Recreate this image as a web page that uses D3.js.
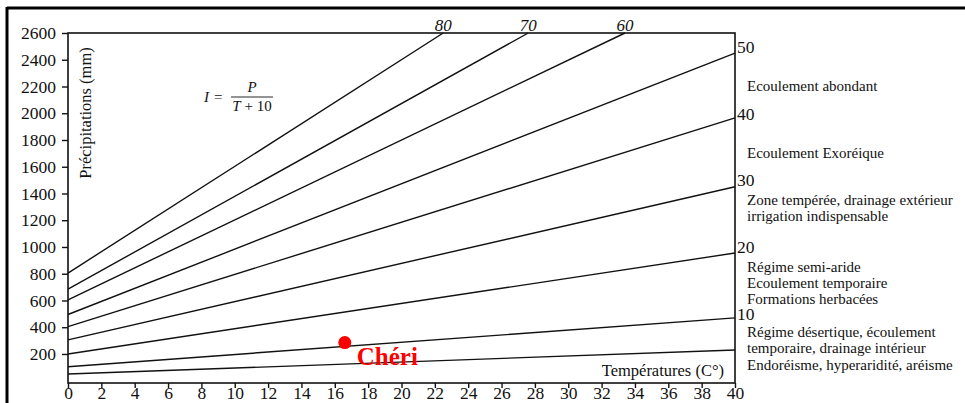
<!DOCTYPE html>
<html>
<head>
<meta charset="utf-8">
<script src="https://cdn.jsdelivr.net/npm/d3@7"></script>
<style>
  body { margin: 0; background: #fff; }
  svg { display: block; }
</style>
</head>
<body>
<svg id="chart" width="965" height="403"></svg>
<script>
// indices de De Martonne
const indices = [5, 10, 20, 30, 40, 50, 60, 70, 80];
const startP = [50, 105, 200, 305, 405, 495, 605, 685, 805];   // P a T = 0
const endT = [40, 40, 40, 40, 40, 40, 33.4, 27.6, 22.5];
const endP = [230, 470, 955, 1450, 1965, 2450, 2600, 2600, 2600];

const xTicks = d3.range(0, 41, 2);
const yTicks = [200, 400, 600, 800, 1000, 1200, 1400, 1600, 1800, 2000, 2200, 2400, 2600];

// etiquettes a droite
const rightLabels = ["50", "40", "30", "20", "10"];
const rightLabelP = [2500, 2000, 1500, 1000, 500];

const zoneText = [
  "Ecoulement abondant",
  "Ecoulement Exoréique",
  "Zone tempérée, drainage extérieur",
  "irrigation indispensable",
  "Régime semi-aride",
  "Ecoulement temporaire",
  "Formations herbacées",
  "Régime désertique, écoulement",
  "temporaire, drainage intérieur",
  "Endoréisme, hyperaridité, aréisme"
];
const zoneTextP = [2203, 1709, 1351, 1231, 851, 731, 612, 365, 245, 118];

const station = { name: "Chéri", T: 16.6, P: 285 };

const svg = d3.select("#chart");
const mLeft = 68, mRight = 735, mTop = 33, mBottom = 383;
const serif = "'Liberation Serif', 'Times New Roman', serif";

let x = d3.scaleLinear().domain([0, 40]).range([mLeft, mRight]);
let y = d3.scaleLinear().domain([-17, 2600]).range([mBottom, mTop]);

// cadre exterieur
svg.append("line").attr("x1", 7).attr("x2", 965).attr("y1", 8).attr("y2", 8)
  .attr("stroke", "#000").attr("stroke-width", 3);
svg.append("line").attr("x1", 7).attr("x2", 7).attr("y1", 7).attr("y2", 403)
  .attr("stroke", "#000").attr("stroke-width", 3);

// lignes d'indice
svg.append("g").selectAll("line")
  .data(indices)
  .enter()
  .append("line")
  .attr("x1", x(0))
  .attr("y1", (d, i) => y(startP[i]))
  .attr("x2", (d, i) => x(endT[i]))
  .attr("y2", (d, i) => y(endP[i]))
  .attr("stroke", "#111")
  .attr("stroke-width", 1.4);

// axes
let gx = svg.append("g").attr("transform", "translate(0," + mBottom + ")")
  .call(d3.axisBottom(x).tickValues(xTicks).tickSize(5).tickPadding(-1).tickFormat(d3.format("d")));
gx.select(".domain").remove();
gx.selectAll("text").attr("font-size", 17.5).attr("fill", "#111");
gx.selectAll("line").attr("stroke", "#111").attr("stroke-width", 1.4);

let gy = svg.append("g").attr("transform", "translate(" + mLeft + ",0)")
  .call(d3.axisLeft(y).tickValues(yTicks).tickSize(6).tickPadding(6).tickFormat(d3.format("d")));
gy.select(".domain").remove();
gy.selectAll("text").attr("font-size", 17.5).attr("fill", "#111");
gy.selectAll("line").attr("stroke", "#111").attr("stroke-width", 1.4);

// cadre du graphe
svg.append("rect").attr("x", mLeft).attr("y", mTop)
  .attr("width", mRight - mLeft).attr("height", mBottom - mTop)
  .attr("fill", "none").attr("stroke", "#111").attr("stroke-width", 1.6);

// etiquettes en haut (80, 70, 60)
svg.append("g").selectAll("text")
  .data(indices.filter((d, i) => endP[i] >= 2600))
  .enter()
  .append("text")
  .attr("x", d => x(endT[indices.indexOf(d)]))
  .attr("y", mTop - 2)
  .attr("text-anchor", "middle")
  .attr("font-size", 17)
  .attr("font-style", "italic")
  .attr("fill", "#111")
  .text(d => d);

// etiquettes a droite
svg.append("g").selectAll("text")
  .data(rightLabels)
  .enter()
  .append("text")
  .attr("x", mRight + 2)
  .attr("y", (d, i) => y(rightLabelP[i]))
  .attr("dy", "0.36em")
  .attr("font-size", 17.5)
  .attr("fill", "#111")
  .text(d => d);

svg.append("g").selectAll("text")
  .data(zoneText)
  .enter()
  .append("text")
  .attr("x", mRight + 12)
  .attr("y", (d, i) => y(zoneTextP[i]))
  .attr("dy", "0.36em")
  .attr("font-size", 15)
  .attr("fill", "#111")
  .text(d => d);

// titres des axes
svg.append("text")
  .attr("transform", "translate(91,113) rotate(-90)")
  .attr("text-anchor", "middle")
  .attr("font-size", 16.5)
  .attr("fill", "#111")
  .text("Précipitations (mm)");

svg.append("text")
  .attr("x", mRight - 11)
  .attr("y", 376)
  .attr("text-anchor", "end")
  .attr("font-size", 16.5)
  .attr("fill", "#111")
  .text("Températures (C°)");

// formule
let f = svg.append("g").attr("font-size", 15).attr("fill", "#111");
f.append("text").attr("x", 204).attr("y", 102).attr("font-style", "italic").text("I");
f.append("text").attr("x", 214).attr("y", 102).text("=");
f.append("line").attr("x1", 231).attr("x2", 273).attr("y1", 97).attr("y2", 97)
  .attr("stroke", "#111").attr("stroke-width", 0.9);
f.append("text").attr("x", 252).attr("y", 92).attr("text-anchor", "middle")
  .attr("font-style", "italic").text("P");
let den = f.append("text").attr("x", 252).attr("y", 111).attr("text-anchor", "middle");
den.append("tspan").attr("font-style", "italic").text("T");
den.append("tspan").text(" + 10");

// station
svg.append("circle")
  .attr("cx", x(station.T))
  .attr("cy", y(station.P))
  .attr("r", 6.5)
  .attr("fill", "#ff0000");
svg.append("text")
  .attr("x", x(station.T) + 12)
  .attr("y", y(station.P) + 22)
  .attr("font-size", 25)
  .attr("font-weight", "bold")
  .attr("fill", "#ff0000")
  .text(station.name);

// police serif partout
svg.selectAll("text").style("font-family", serif);
</script>
</body>
</html>
